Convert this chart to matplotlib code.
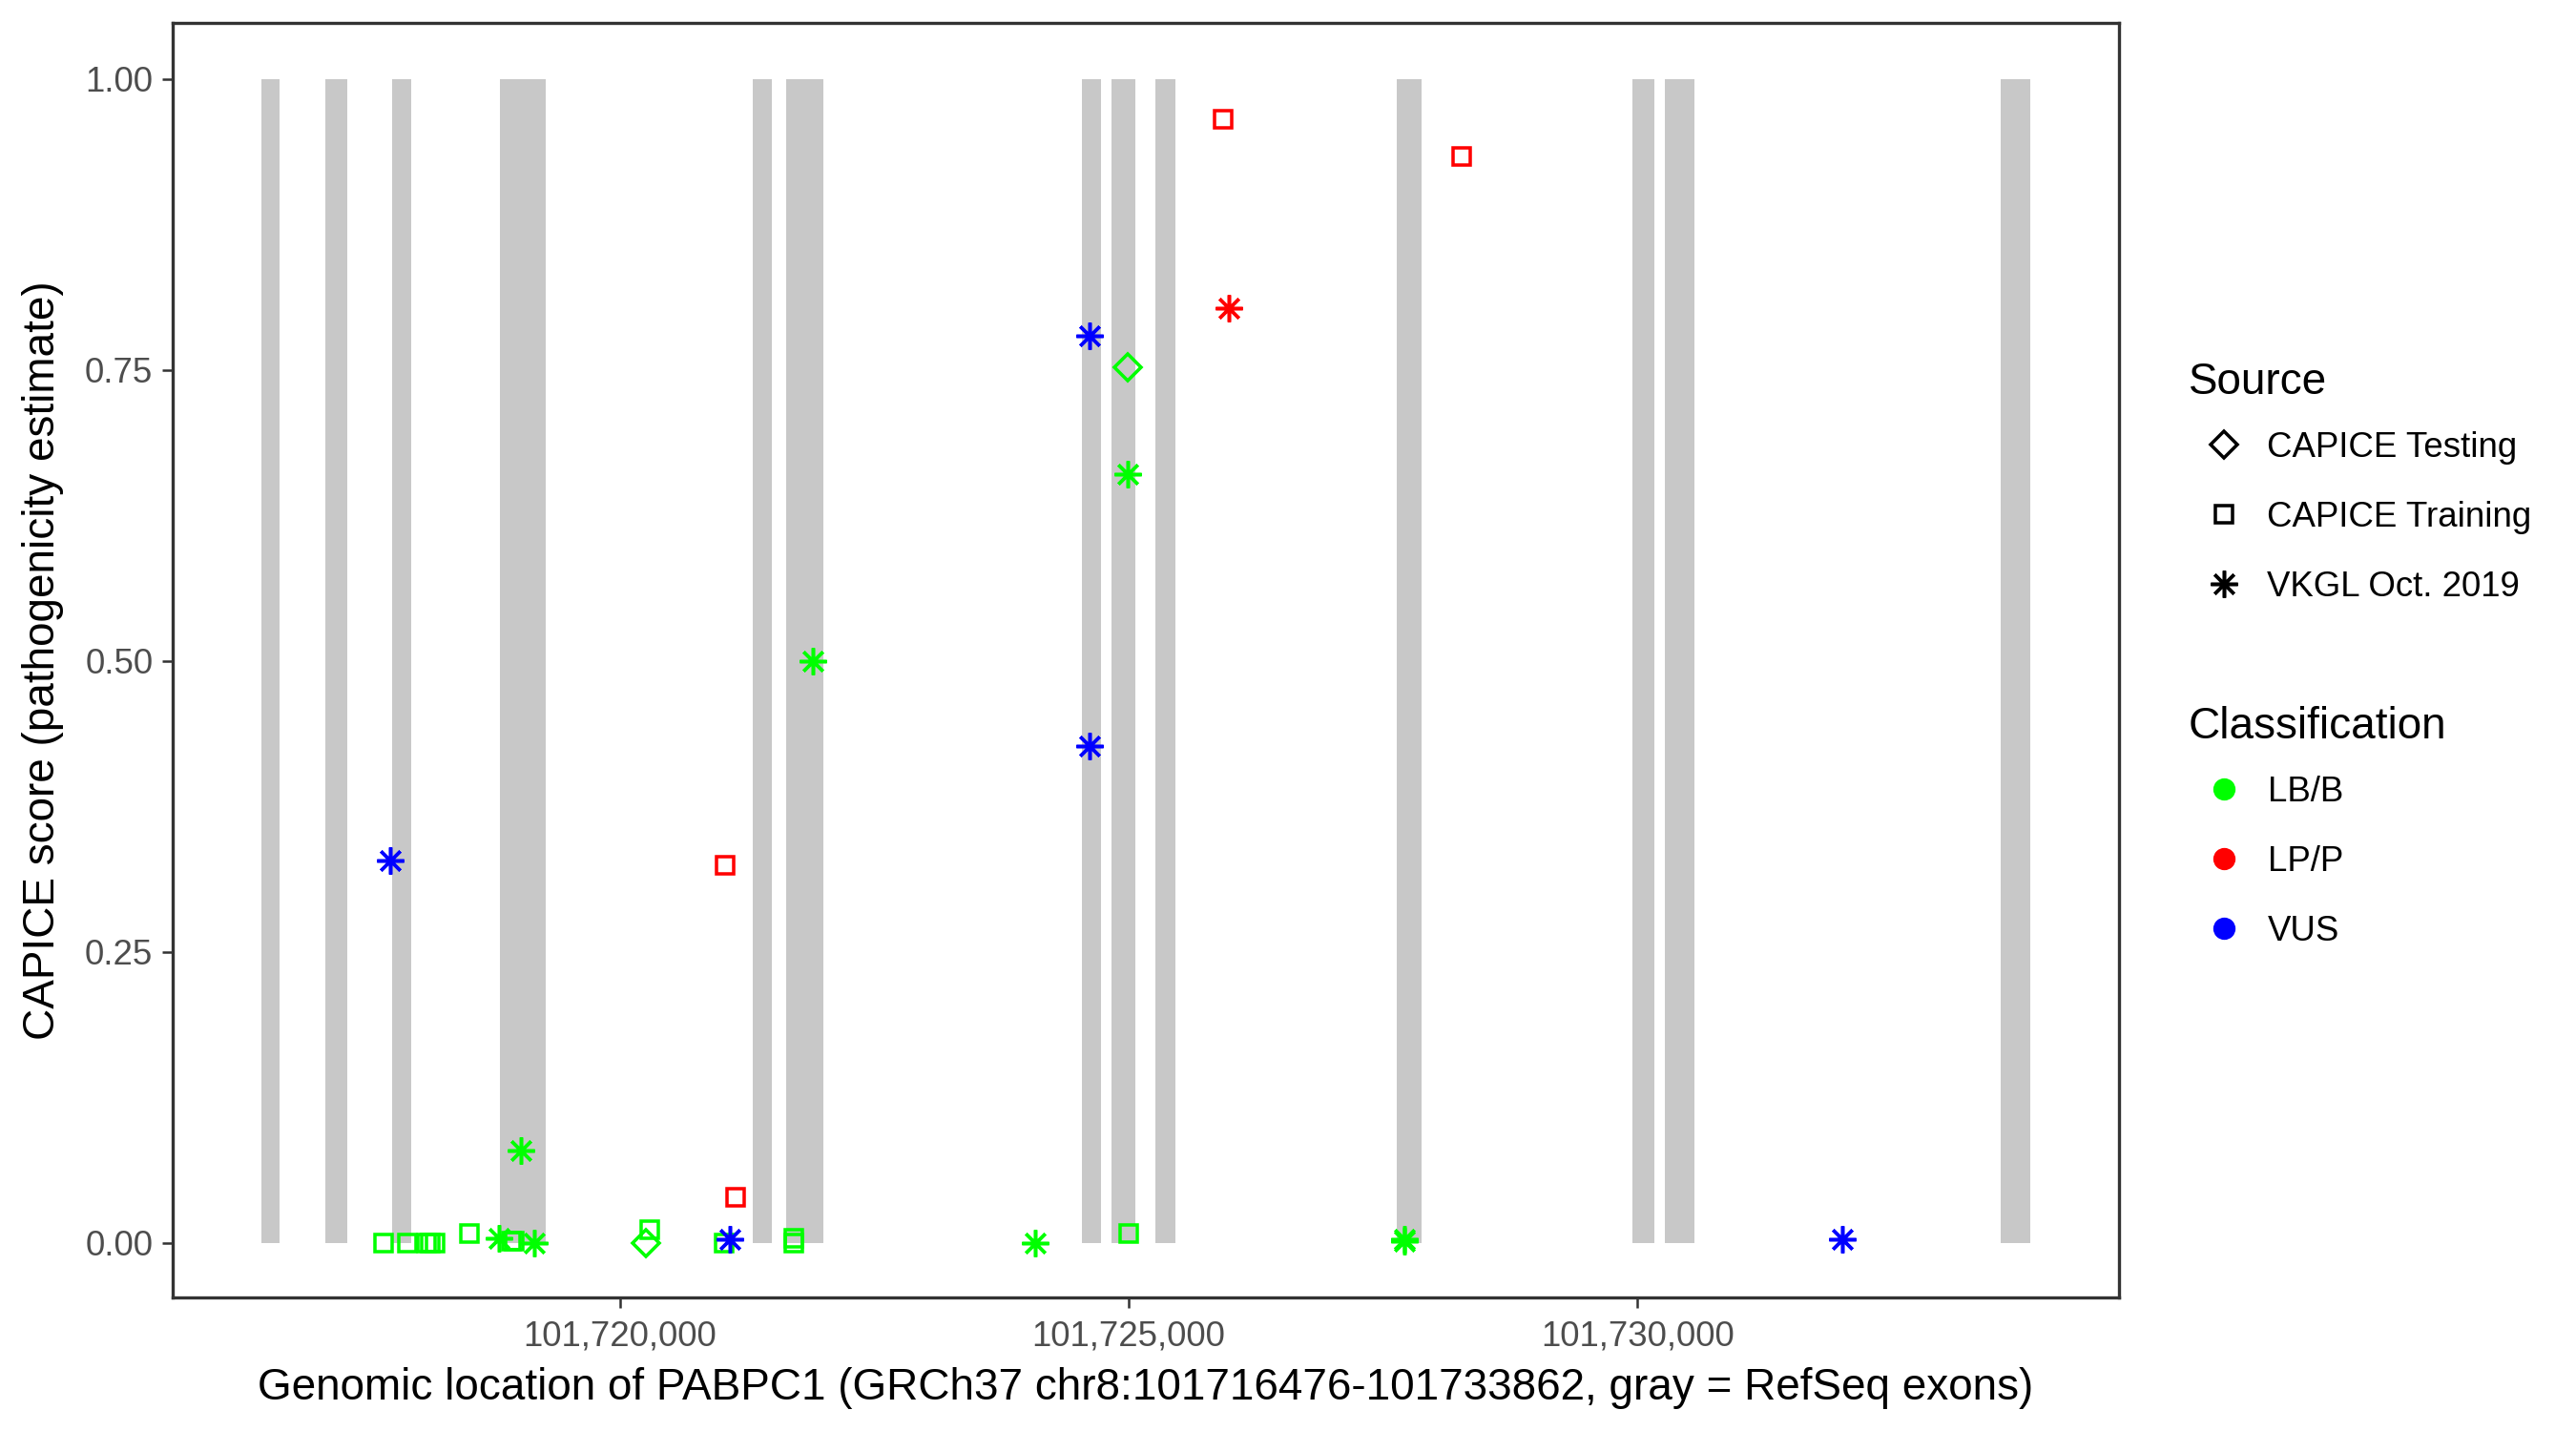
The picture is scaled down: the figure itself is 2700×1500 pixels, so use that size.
import matplotlib
matplotlib.use("Agg")
import matplotlib.pyplot as plt
from matplotlib.lines import Line2D
from matplotlib.ticker import FixedLocator, FuncFormatter

plt.rcParams['font.family'] = ['Liberation Sans', 'DejaVu Sans']

# gene + RefSeq exons
gene_start = 101716476
gene_end = 101733862
exon_starts = [101716476, 101717102, 101717767, 101718824, 101721310, 101721636,
               101724543, 101724831, 101725265, 101727632, 101729946, 101730269,
               101733570]
exon_ends = [101716659, 101717323, 101717946, 101719275, 101721497, 101722002,
             101724726, 101725068, 101725463, 101727875, 101730164, 101730559,
             101733862]

# variants
pos = [101717743, 101717675, 101717913, 101718098, 101718136, 101718183,
       101718522, 101718815, 101718935, 101718960, 101719024, 101719162,
       101720253, 101720296, 101721038, 101721140, 101721027, 101721082,
       101721712, 101721712, 101721897, 101724081, 101724620, 101724620,
       101724989, 101724989, 101725001, 101725932, 101725982, 101727708,
       101727712, 101728272, 101732011]
score = [0.328, 0.000, 0.000, 0.000, 0.000, 0.000,
         0.008, 0.004, 0.001, 0.001, 0.079, 0.000,
         0.000, 0.011, 0.324, 0.039, 0.000, 0.003,
         0.004, 0.000, 0.500, 0.000, 0.779, 0.427,
         0.752, 0.660, 0.008, 0.965, 0.803, 0.003,
         0.001, 0.933, 0.003]
source = ['VKGL Oct. 2019', 'CAPICE Training', 'CAPICE Training', 'CAPICE Training',
          'CAPICE Training', 'CAPICE Training', 'CAPICE Training', 'VKGL Oct. 2019',
          'CAPICE Training', 'CAPICE Training', 'VKGL Oct. 2019', 'VKGL Oct. 2019',
          'CAPICE Testing', 'CAPICE Training', 'CAPICE Training', 'CAPICE Training',
          'CAPICE Training', 'VKGL Oct. 2019', 'CAPICE Training', 'CAPICE Training',
          'VKGL Oct. 2019', 'VKGL Oct. 2019', 'VKGL Oct. 2019', 'VKGL Oct. 2019',
          'CAPICE Testing', 'VKGL Oct. 2019', 'CAPICE Training', 'CAPICE Training',
          'VKGL Oct. 2019', 'VKGL Oct. 2019', 'VKGL Oct. 2019', 'CAPICE Training',
          'VKGL Oct. 2019']
classification = ['VUS', 'LB/B', 'LB/B', 'LB/B', 'LB/B', 'LB/B',
                  'LB/B', 'LB/B', 'LB/B', 'LB/B', 'LB/B', 'LB/B',
                  'LB/B', 'LB/B', 'LP/P', 'LP/P', 'LB/B', 'VUS',
                  'LB/B', 'LB/B', 'LB/B', 'LB/B', 'VUS', 'VUS',
                  'LB/B', 'LB/B', 'LB/B', 'LP/P', 'LP/P', 'LB/B',
                  'LB/B', 'LP/P', 'VUS']

source_names = ['CAPICE Testing', 'CAPICE Training', 'VKGL Oct. 2019']
class_names = ['LB/B', 'LP/P', 'VUS']

markers = {'CAPICE Testing': 'D', 'CAPICE Training': 's', 'VKGL Oct. 2019': (8, 2, 0)}
msizes = {'CAPICE Testing': 4.8, 'CAPICE Training': 4.4, 'VKGL Oct. 2019': 6.8}
colors = {'LB/B': '#00FF00', 'LP/P': '#FF0000', 'VUS': '#0000FF'}

fig = plt.figure(figsize=(9, 5), dpi=300)
ax = fig.add_axes([181 / 2700, 140 / 1500, 2040 / 2700, 1336 / 1500])

# exons as gray bars from 0 to 1
widths = [e - s for s, e in zip(exon_starts, exon_ends)]
ax.bar(exon_starts, 1, width=widths, bottom=0, align='edge', color='#C8C8C8', linewidth=0, zorder=1)

for i in range(len(pos)):
    ax.plot(pos[i], score[i], ls='none', marker=markers[source[i]], ms=msizes[source[i]],
            mfc='none', mec=colors[classification[i]], mew=0.85, zorder=3)

pad = 0.05 * (gene_end - gene_start)
ax.set_xlim(gene_start - pad, gene_end + pad)
ax.set_ylim(-0.047, 1.048)

ax.xaxis.set_major_locator(FixedLocator([101720000, 101725000, 101730000]))
ax.xaxis.set_major_formatter(FuncFormatter(lambda v, p: f"{int(v):,}"))
ax.yaxis.set_major_locator(FixedLocator([0, 0.25, 0.5, 0.75, 1.0]))
ax.yaxis.set_major_formatter(FuncFormatter(lambda v, p: f"{v:.2f}"))
ax.tick_params(length=2.75, width=0.6, color='#333333', labelcolor='#4D4D4D',
               labelsize=8.8, pad=2.2)
ax.tick_params(axis='x', pad=3.0)
for sp in ax.spines.values():
    sp.set_color('#333333')
    sp.set_linewidth(0.8)

ax.set_xlabel('Genomic location of PABPC1 (GRCh37 chr8:101716476-101733862, gray = RefSeq exons)',
              fontsize=11, labelpad=3.3)
ax.set_ylabel('CAPICE score (pathogenicity estimate)', fontsize=11, labelpad=5.3)

# legends
src_handles = [Line2D([], [], ls='none', marker=markers[s], ms=msizes[s], mfc='none',
                      mec='black', mew=0.85) for s in source_names]
cls_handles = [Line2D([], [], ls='none', marker='o', ms=4.6, mfc=colors[c], mec=colors[c])
               for c in class_names]

leg_kw = dict(loc='upper left', frameon=False, fontsize=8.8, title_fontsize=11,
              alignment='left', borderpad=0, borderaxespad=0, handlelength=2.0,
              handletextpad=0.25, labelspacing=1.03)
leg1 = fig.legend(src_handles, source_names, title='Source', bbox_to_anchor=(2294 / 2700, 1 - 379 / 1500), **leg_kw)
leg2 = fig.legend(cls_handles, class_names, title='Classification', bbox_to_anchor=(2294 / 2700, 1 - 740 / 1500), **leg_kw)
# tighter gap between legend title and its first key
leg1._legend_box.sep = 7.0
leg2._legend_box.sep = 7.0

fig.savefig('out.png', dpi=300)
